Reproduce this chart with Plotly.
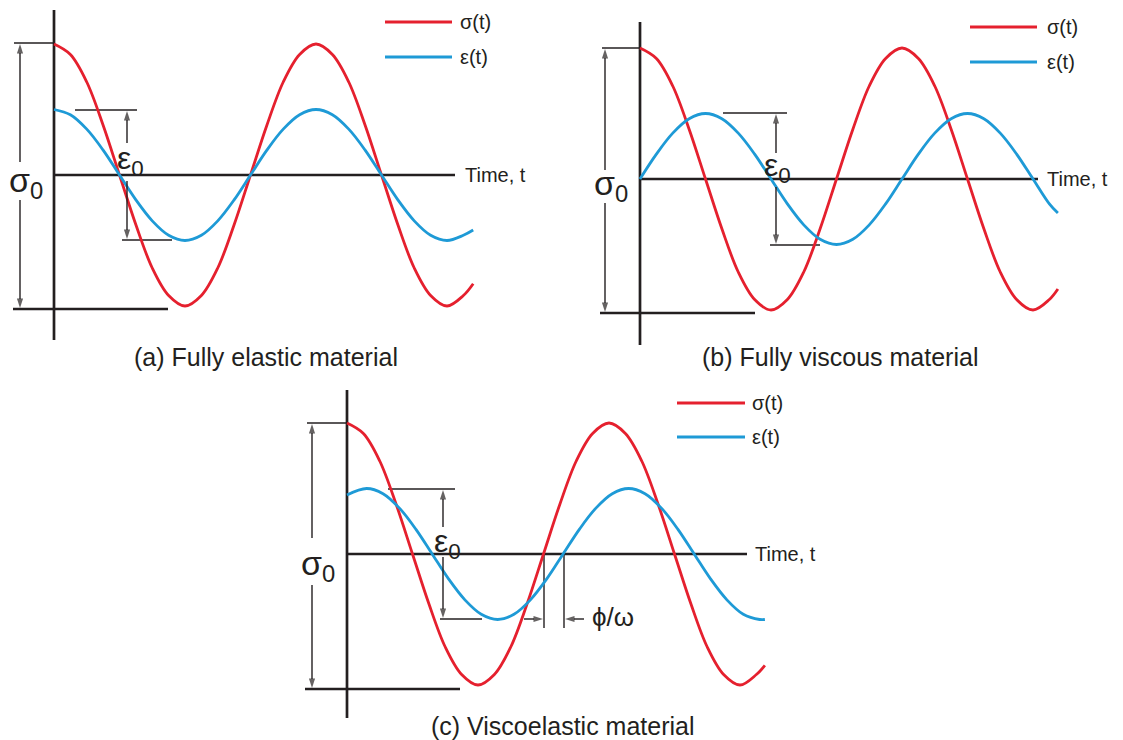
import plotly.graph_objects as go

# ---------------- data (time in units of 1/4 period, values in units of sigma_0) -------------
# (a) fully elastic
t_a = [0, 0.25, 0.5, 0.75, 1, 1.25, 1.5, 1.75, 2, 2.25, 2.5, 2.75, 3, 3.25, 3.5, 3.75,
       4, 4.25, 4.5, 4.75, 5, 5.25, 5.5, 5.75, 6, 6.25, 6.4]
sigma_a = [1.0, 0.92, 0.71, 0.38, 0.0, -0.38, -0.71, -0.92, -1.0, -0.92, -0.71, -0.38, 0.0, 0.38, 0.71, 0.92,
           1.0, 0.92, 0.71, 0.38, 0.0, -0.38, -0.71, -0.92, -1.0, -0.92, -0.83]
eps_a = [0.5, 0.46, 0.35, 0.19, 0.0, -0.19, -0.35, -0.46, -0.5, -0.46, -0.35, -0.19, 0.0, 0.19, 0.35, 0.46,
         0.5, 0.46, 0.35, 0.19, 0.0, -0.19, -0.35, -0.46, -0.5, -0.46, -0.42]

# (b) fully viscous
t_b = [0, 0.25, 0.5, 0.75, 1, 1.25, 1.5, 1.75, 2, 2.25, 2.5, 2.75, 3, 3.25, 3.5, 3.75,
       4, 4.25, 4.5, 4.75, 5, 5.25, 5.5, 5.75, 6, 6.25, 6.38]
sigma_b = [1.0, 0.92, 0.71, 0.38, 0.0, -0.38, -0.71, -0.92, -1.0, -0.92, -0.71, -0.38, 0.0, 0.38, 0.71, 0.92,
           1.0, 0.92, 0.71, 0.38, 0.0, -0.38, -0.71, -0.92, -1.0, -0.92, -0.84]
eps_b = [0.0, 0.19, 0.35, 0.46, 0.5, 0.46, 0.35, 0.19, 0.0, -0.19, -0.35, -0.46, -0.5, -0.46, -0.35, -0.19,
         0.0, 0.19, 0.35, 0.46, 0.5, 0.46, 0.35, 0.19, 0.0, -0.19, -0.26]

# (c) viscoelastic
t_c_sigma = [0, 0.25, 0.5, 0.75, 1, 1.25, 1.5, 1.75, 2, 2.25, 2.5, 2.75, 3, 3.25, 3.5, 3.75,
             4, 4.25, 4.5, 4.75, 5, 5.25, 5.5, 5.75, 6, 6.25, 6.38]
sigma_c = [1.0, 0.92, 0.71, 0.38, 0.0, -0.38, -0.71, -0.92, -1.0, -0.92, -0.71, -0.38, 0.0, 0.38, 0.71, 0.92,
           1.0, 0.92, 0.71, 0.38, 0.0, -0.38, -0.71, -0.92, -1.0, -0.92, -0.85]
t_c_eps = [0, 0.3, 0.55, 0.8, 1.05, 1.3, 1.55, 1.8, 2.05, 2.3, 2.55, 2.8, 3.05, 3.3, 3.55, 3.8,
           4.05, 4.3, 4.55, 4.8, 5.05, 5.3, 5.55, 5.8, 6.05, 6.3, 6.38]
eps_c = [0.45, 0.5, 0.46, 0.35, 0.19, 0.0, -0.19, -0.35, -0.46, -0.5, -0.46, -0.35, -0.19, 0.0, 0.19, 0.35,
         0.46, 0.5, 0.46, 0.35, 0.19, 0.0, -0.19, -0.35, -0.46, -0.5, -0.5]

series_names = ["σ(t)", "ε(t)"]
captions = ["(a) Fully elastic material", "(b) Fully viscous material", "(c) Viscoelastic material"]
axis_label = "Time, t"
sigma_label = "σ<sub>0</sub>"
eps_label = "ε<sub>0</sub>"
phase_label = "ϕ/ω"

# ---------------- styling / layout ----------------
W, H = 1123, 740
RED = "#E5202E"
BLUE = "#1E9AD6"
INK = "#231F20"
FONT = "Liberation Sans, Arial, Helvetica, sans-serif"
PXT = 65.5   # pixels per time unit
PXV = 131.0  # pixels per sigma_0

panels = {
    # name: (px0, px1, py0, py1, t0_px, y0_px)
    "a": (0, 545, 0, 370, 54, 175),
    "b": (560, 1123, 0, 370, 640, 179),
    "c": (280, 860, 370, 740, 347, 554),
}
axid = {"a": ("x", "y"), "b": ("x2", "y2"), "c": ("x3", "y3")}

fig = go.Figure()
layout = dict(width=W, height=H, margin=dict(l=0, r=0, t=0, b=0),
              paper_bgcolor="white", plot_bgcolor="white", showlegend=False)


def conv(p):
    px0, px1, py0, py1, t0, y0 = panels[p]
    tx = lambda px: (px - t0) / PXT
    vy = lambda py: (y0 - py) / PXV
    return tx, vy


for i, p in enumerate(["a", "b", "c"]):
    px0, px1, py0, py1, t0, y0 = panels[p]
    tx, vy = conv(p)
    suffix = "" if i == 0 else str(i + 1)
    layout["xaxis" + suffix] = dict(domain=[px0 / W, px1 / W], range=[tx(px0), tx(px1)],
                                   visible=False, fixedrange=True,
                                   anchor="y" + suffix)
    layout["yaxis" + suffix] = dict(domain=[1 - py1 / H, 1 - py0 / H], range=[vy(py1), vy(py0)],
                                   visible=False, fixedrange=True,
                                   anchor="x" + suffix)

curves = {
    "a": [(t_a, sigma_a, RED), (t_a, eps_a, BLUE)],
    "b": [(t_b, sigma_b, RED), (t_b, eps_b, BLUE)],
    "c": [(t_c_sigma, sigma_c, RED), (t_c_eps, eps_c, BLUE)],
}
for p, lst in curves.items():
    xa, ya = axid[p]
    for (tt, vv, col), nm in zip(lst, series_names):
        fig.add_trace(go.Scatter(x=tt, y=vv, mode="lines", name=nm, xaxis=xa, yaxis=ya,
                                 line=dict(color=col, width=2.8, shape="spline", smoothing=1.0),
                                 hoverinfo="skip"))

shapes = []
annotations = []
THIN = 1.4


def hline(p, px_a, px_b, py, w=THIN):
    tx, vy = conv(p)
    xa, ya = axid[p]
    shapes.append(dict(type="line", xref=xa, yref=ya, x0=tx(px_a), x1=tx(px_b), y0=vy(py), y1=vy(py),
                       line=dict(color=INK, width=w), layer="below"))


def vline(p, px, py_a, py_b, w=THIN):
    tx, vy = conv(p)
    xa, ya = axid[p]
    shapes.append(dict(type="line", xref=xa, yref=ya, x0=tx(px), x1=tx(px), y0=vy(py_a), y1=vy(py_b),
                       line=dict(color=INK, width=w), layer="below"))


def arrow(p, hx, hy, tx_, ty_):
    tx, vy = conv(p)
    xa, ya = axid[p]
    fig.add_trace(go.Scatter(x=[tx(tx_), tx(hx)], y=[vy(ty_), vy(hy)], mode="lines+markers",
                             xaxis=xa, yaxis=ya, hoverinfo="skip",
                             line=dict(color=INK, width=THIN),
                             marker=dict(symbol="arrow", size=[0, 10], angleref="previous",
                                         color=INK, line=dict(width=0))))


def ptext(px, py, txt, size, anchor="left"):
    annotations.append(dict(x=px / W, y=1 - py / H, xref="paper", yref="paper", text=txt,
                            showarrow=False, xanchor=anchor, yanchor="middle",
                            font=dict(family=FONT, size=size, color=INK)))


def legend_line(x0, x1, py, col):
    shapes.append(dict(type="line", xref="paper", yref="paper", x0=x0 / W, x1=x1 / W,
                       y0=1 - py / H, y1=1 - py / H, line=dict(color=col, width=2.8)))


AXW = 2.7
# ---- panel a
vline("a", 54, 10, 340, AXW)
hline("a", 54, 455, 175, AXW)
hline("a", 13, 168, 309, AXW)
hline("a", 14, 54, 43)
hline("a", 75, 137, 110)
hline("a", 122, 172, 240)
arrow("a", 20, 44, 20, 162)
arrow("a", 20, 308, 20, 200)
arrow("a", 127, 111, 127, 143)
arrow("a", 127, 239, 127, 181)
# ---- panel b
vline("b", 640, 22, 345, AXW)
hline("b", 640, 1038, 179, AXW)
hline("b", 600, 755, 313, AXW)
hline("b", 602, 640, 48)
hline("b", 723, 787, 113)
hline("b", 770, 820, 245)
arrow("b", 605, 49, 605, 170)
arrow("b", 605, 312, 605, 203)
arrow("b", 776, 114, 776, 153)
arrow("b", 776, 244, 776, 187)
# ---- panel c
vline("c", 347, 390, 718, AXW)
hline("c", 347, 747, 554, AXW)
hline("c", 305, 460, 689, AXW)
hline("c", 307, 347, 423)
hline("c", 388, 455, 489)
hline("c", 440, 482, 619)
vline("c", 544, 554, 628)
vline("c", 564, 554, 628)
arrow("c", 312, 424, 312, 538)
arrow("c", 312, 688, 312, 585)
arrow("c", 443, 490, 443, 527)
arrow("c", 443, 618, 443, 557)
arrow("c", 543, 619, 524, 619)
arrow("c", 565, 619, 584, 619)

# legends
for (x0, x1, ya, yb, xt) in [(385, 452, 22, 57, 458), (970, 1037, 27, 62, 1045), (677, 745, 403, 437, 750)]:
    legend_line(x0, x1, ya, RED)
    legend_line(x0, x1, yb, BLUE)
    ptext(xt, ya, series_names[0], 20)
    ptext(xt, yb, series_names[1], 20)

# axis labels
ptext(463, 175, axis_label, 20)
ptext(1045, 179, axis_label, 20)
ptext(753, 554, axis_label, 20)

# captions
ptext(266, 357, captions[0], 25, "center")
ptext(840, 357, captions[1], 25, "center")
ptext(563, 726, captions[2], 25, "center")

# symbol labels
ptext(26, 182, sigma_label, 34, "center")
ptext(130, 160, eps_label, 32, "center")
ptext(611, 185, sigma_label, 34, "center")
ptext(778, 167, eps_label, 32, "center")
ptext(318, 565, sigma_label, 34, "center")
ptext(447, 543, eps_label, 32, "center")
ptext(590, 617, phase_label, 26)

layout["shapes"] = shapes
layout["annotations"] = annotations
fig.update_layout(**layout)
fig.write_html("out.html")
